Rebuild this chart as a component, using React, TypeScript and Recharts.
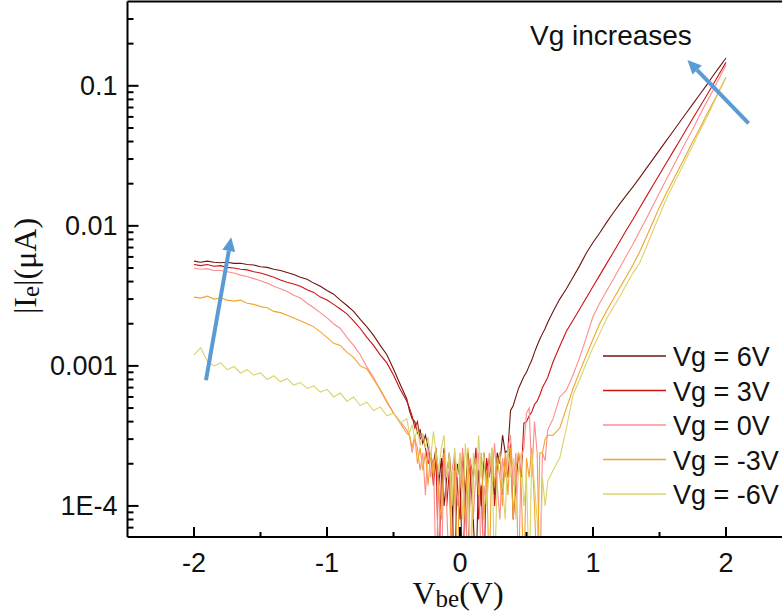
import { LineChart, Line, XAxis, YAxis, ReferenceLine } from "recharts";

// Vbe sample points (V): coarse on the flat parts, finer through the noisy valley
const vbe = [
  -2, -1.95, -1.9, -1.85, -1.8, -1.75, -1.7, -1.65, -1.6, -1.55, -1.5, -1.45, -1.4, -1.35, -1.3, -1.25, -1.2,
  -1.15, -1.1, -1.05, -1, -0.95, -0.9, -0.85, -0.8, -0.75, -0.7, -0.65, -0.6, -0.55, -0.5, -0.45, -0.4,
  -0.38, -0.36, -0.34, -0.32, -0.3, -0.28, -0.26, -0.24, -0.22, -0.2, -0.18, -0.16, -0.14, -0.12, -0.1, -0.08,
  -0.06, -0.04, -0.02, 0, 0.02, 0.04, 0.06, 0.08, 0.1, 0.12, 0.14, 0.16, 0.18, 0.2, 0.22, 0.24, 0.26, 0.28,
  0.3, 0.32, 0.34, 0.36, 0.38, 0.4, 0.42, 0.44, 0.46, 0.48, 0.5, 0.52, 0.54, 0.56, 0.58, 0.6, 0.62, 0.64, 0.66,
  0.7, 0.75, 0.8, 0.85, 0.9, 0.95, 1, 1.05, 1.1, 1.15, 1.2, 1.25, 1.3, 1.35, 1.4, 1.45, 1.5, 1.55, 1.6, 1.65,
  1.7, 1.75, 1.8, 1.85, 1.9, 1.95, 2,
];

// |Ie| in uA, one list per gate voltage
const vg6 = [
  5.6e-3, 5.5e-3, 5.6e-3, 5.5e-3, 5.45e-3, 5.5e-3, 5.4e-3, 5.4e-3, 5.3e-3, 5.25e-3, 5.1e-3, 5.05e-3, 4.9e-3, 4.8e-3, 4.65e-3, 4.5e-3, 4.3e-3,
  4.15e-3, 3.9e-3, 3.7e-3, 3.45e-3, 3.25e-3, 2.95e-3, 2.7e-3, 2.45e-3, 2.15e-3, 1.9e-3, 1.65e-3, 1.4e-3, 1.2e-3, 9.5e-4, 7.4e-4, 5.8e-4,
  4.8e-4, 4.2e-4, 4.0e-4, 3.3e-4, 3.5e-4, 2.8e-4, 3.2e-4, 2.6e-4, 2.2e-4, 2.0e-4, 2.6e-4, 1.4e-4, 2.2e-4, 1.0e-4, 1.6e-4, 2.4e-4,
  1.2e-4, 3e-5, 2.0e-4, 1.6e-4, 3e-5, 1.2e-4, 2.4e-4, 1.6e-4, 8e-5, 3e-5, 1.8e-4, 1.0e-4, 2.4e-4, 1.4e-4, 2.2e-4, 1.6e-4, 1.2e-4, 2.4e-4,
  2.0e-4, 3.2e-4, 2.4e-4, 2.5e-4, 4.8e-4, 5.2e-4, 6.0e-4, 6.9e-4, 7.6e-4, 8.4e-4, 9.0e-4, 1.0e-3, 1.1e-3, 1.25e-3, 1.4e-3, 1.55e-3, 1.7e-3, 1.85e-3, 2.05e-3,
  2.45e-3, 3.0e-3, 3.55e-3, 4.3e-3, 5.2e-3, 6.4e-3, 7.6e-3, 8.9e-3, 1.05e-2, 1.23e-2, 1.43e-2, 1.65e-2, 1.9e-2, 2.2e-2, 2.56e-2, 2.98e-2, 3.47e-2, 4.04e-2, 4.7e-2, 5.47e-2,
  6.37e-2, 7.4e-2, 8.6e-2, 0.1, 0.117, 0.136, 0.158,
];
const vg3 = [
  5.3e-3, 5.2e-3, 5.3e-3, 5.15e-3, 5.2e-3, 5.05e-3, 5.0e-3, 4.9e-3, 4.85e-3, 4.7e-3, 4.6e-3, 4.45e-3, 4.3e-3, 4.1e-3, 3.95e-3, 3.85e-3, 3.7e-3,
  3.5e-3, 3.35e-3, 3.1e-3, 2.95e-3, 2.75e-3, 2.55e-3, 2.35e-3, 2.1e-3, 1.85e-3, 1.6e-3, 1.4e-3, 1.2e-3, 1.05e-3, 8.6e-4, 6.8e-4, 5.6e-4,
  5.0e-4, 4.4e-4, 3.6e-4, 4.0e-4, 3.0e-4, 3.2e-4, 2.6e-4, 2.0e-4, 2.4e-4, 1.4e-4, 2.2e-4, 3e-5, 1.6e-4, 2.6e-4, 1.0e-4, 1.8e-4,
  3e-5, 2.2e-4, 1.4e-4, 8e-5, 2.4e-4, 1.2e-4, 3e-5, 2.0e-4, 1.6e-4, 2.6e-4, 8e-5, 1.4e-4, 3e-5, 2.2e-4, 1.6e-4, 2.4e-4, 1.0e-4, 1.8e-4,
  2.4e-4, 1.2e-4, 2.2e-4, 1.6e-4, 2.8e-4, 8e-5, 1.4e-4, 2.4e-4, 1.6e-4, 3.9e-4, 4.0e-4, 4.4e-4, 4.7e-4, 5.3e-4, 5.6e-4, 6.2e-4, 7.0e-4, 7.6e-4, 8.3e-4,
  1.07e-3, 1.38e-3, 1.77e-3, 2.12e-3, 2.55e-3, 3.07e-3, 3.69e-3, 4.43e-3, 5.33e-3, 6.4e-3, 7.7e-3, 9.3e-3, 1.11e-2, 1.34e-2, 1.61e-2, 1.94e-2, 2.33e-2, 2.8e-2, 3.36e-2, 4.04e-2,
  4.86e-2, 5.84e-2, 7.0e-2, 8.4e-2, 0.101, 0.122, 0.147,
];
const vg0 = [
  5.0e-3, 4.9e-3, 4.95e-3, 4.8e-3, 4.8e-3, 4.7e-3, 4.6e-3, 4.45e-3, 4.35e-3, 4.2e-3, 4.05e-3, 3.9e-3, 3.7e-3, 3.55e-3, 3.4e-3, 3.2e-3, 3.05e-3,
  2.8e-3, 2.6e-3, 2.4e-3, 2.2e-3, 2.0e-3, 1.85e-3, 1.6e-3, 1.4e-3, 1.2e-3, 9.8e-4, 8.3e-4, 6.7e-4, 5.5e-4, 4.6e-4, 4.0e-4, 3.5e-4,
  3.2e-4, 2.4e-4, 3.0e-4, 2.6e-4, 1.8e-4, 2.4e-4, 1.2e-4, 2.6e-4, 1.6e-4, 2.2e-4, 3e-5, 1.6e-4, 3e-5, 2.4e-4, 1.0e-4, 3e-5,
  1.8e-4, 2.4e-4, 1.0e-4, 1.4e-4, 2.6e-4, 3e-5, 1.6e-4, 2.2e-4, 8e-5, 1.8e-4, 2.4e-4, 3e-5, 1.4e-4, 1.0e-4, 2.4e-4, 1.6e-4, 2.8e-4, 1.4e-4,
  8e-5, 2.2e-4, 1.6e-4, 2.6e-4, 3.2e-4, 1.4e-4, 2.4e-4, 3e-5, 2.2e-4, 2.6e-4, 4.6e-4, 5.0e-4, 1.6e-4, 4.0e-4, 2.4e-4, 3e-5, 2.4e-4, 2.1e-4, 3.5e-4,
  4.2e-4, 6.0e-4, 6.7e-4, 8.6e-4, 1.15e-3, 1.6e-3, 2.25e-3, 2.8e-3, 3.4e-3, 4.1e-3, 5.0e-3, 6.1e-3, 7.4e-3, 9.1e-3, 1.12e-2, 1.39e-2, 1.72e-2, 2.13e-2, 2.62e-2, 3.24e-2,
  4.0e-2, 4.9e-2, 6.1e-2, 7.5e-2, 9.2e-2, 0.114, 0.141,
];
const vgm3 = [
  3.1e-3, 3.05e-3, 3.15e-3, 3.0e-3, 3.05e-3, 2.95e-3, 2.9e-3, 2.95e-3, 2.8e-3, 2.75e-3, 2.65e-3, 2.6e-3, 2.45e-3, 2.4e-3, 2.3e-3, 2.2e-3, 2.1e-3,
  2.0e-3, 1.9e-3, 1.75e-3, 1.6e-3, 1.45e-3, 1.4e-3, 1.25e-3, 1.15e-3, 1.0e-3, 9.5e-4, 8.0e-4, 6.8e-4, 5.6e-4, 4.6e-4, 3.9e-4, 3.3e-4,
  3.2e-4, 2.6e-4, 3.2e-4, 2.0e-4, 2.6e-4, 1.8e-4, 2.4e-4, 1.4e-4, 2.4e-4, 1.6e-4, 2.6e-4, 1.2e-4, 8e-5, 2.4e-4, 1.6e-4, 2.2e-4,
  3e-5, 1.8e-4, 3e-5, 2.4e-4, 1.4e-4, 8e-5, 2.6e-4, 3e-5, 1.6e-4, 2.2e-4, 1.2e-4, 2.4e-4, 8e-5, 1.8e-4, 3e-5, 2.6e-4, 1.4e-4, 2.2e-4,
  1.6e-4, 1.0e-4, 2.4e-4, 1.2e-4, 2.6e-4, 8e-5, 1.8e-4, 2.4e-4, 1.4e-4, 3e-5, 2.2e-4, 1.6e-4, 2.6e-4, 1.0e-4, 3e-5, 2.4e-4, 2.4e-4, 3.0e-4, 3.2e-4,
  3.2e-4, 3.6e-4, 5.0e-4, 6.9e-4, 9.1e-4, 1.19e-3, 1.55e-3, 2.0e-3, 2.45e-3, 2.97e-3, 3.58e-3, 4.33e-3, 5.25e-3, 6.5e-3, 8.3e-3, 1.06e-2, 1.36e-2, 1.7e-2, 2.1e-2, 2.6e-2,
  3.2e-2, 4.0e-2, 4.9e-2, 6.1e-2, 7.5e-2, 9.3e-2, 0.115,
];
const vgm6 = [
  1.2e-3, 1.35e-3, 1.08e-3, 1.0e-3, 1.05e-3, 9.4e-4, 9.9e-4, 8.9e-4, 9.4e-4, 8.6e-4, 8.9e-4, 8.0e-4, 8.5e-4, 7.7e-4, 8.1e-4, 7.3e-4, 7.6e-4,
  6.9e-4, 7.2e-4, 6.5e-4, 6.8e-4, 6.0e-4, 6.4e-4, 5.6e-4, 6.0e-4, 5.2e-4, 5.5e-4, 4.8e-4, 5.1e-4, 4.4e-4, 4.6e-4, 3.9e-4, 4.2e-4,
  3.3e-4, 3.8e-4, 3.0e-4, 3.6e-4, 2.7e-4, 3.3e-4, 2.6e-4, 3.1e-4, 2.2e-4, 3.4e-4, 2.4e-4, 1.8e-4, 2.6e-4, 3.2e-4, 1.6e-4, 2.4e-4,
  1.0e-4, 2.6e-4, 1.6e-4, 2.4e-4, 8e-5, 2.8e-4, 1.6e-4, 3e-5, 2.4e-4, 1.4e-4, 3.2e-4, 1.6e-4, 2.4e-4, 1.0e-4, 1.8e-4, 2.6e-4, 3e-5, 1.6e-4,
  2.4e-4, 1.4e-4, 8e-5, 2.6e-4, 1.6e-4, 2.2e-4, 8e-5, 1.8e-4, 2.4e-4, 1.0e-4, 1.6e-4, 3e-5, 2.4e-4, 1.4e-4, 8e-5, 3e-5, 1.6e-4, 1.0e-4, 1.5e-4,
  1.8e-4, 2.2e-4, 3.6e-4, 6.2e-4, 8.0e-4, 1.05e-3, 1.35e-3, 1.7e-3, 2.15e-3, 2.6e-3, 3.1e-3, 3.8e-3, 4.6e-3, 5.4e-3, 7.0e-3, 9.2e-3, 1.19e-2, 1.55e-2, 1.93e-2, 2.4e-2,
  3.0e-2, 3.75e-2, 4.7e-2, 5.8e-2, 7.3e-2, 9.1e-2, 0.114,
];

const seriesKeys = ["vg6", "vg3", "vg0", "vgm3", "vgm6"];
const seriesNames = ["Vg = 6V", "Vg = 3V", "Vg = 0V", "Vg = -3V", "Vg = -6V"];
const seriesColors = ["#6e1410", "#cc1212", "#ff8c8c", "#f2a42a", "#d8d46c"];

const xTicks = [-2, -1.5, -1, -0.5, 0, 0.5, 1, 1.5, 2];
const yMajorTicks = [0.0001, 0.001, 0.01, 0.1];
const yMajorLabels = ["1E-4", "0.001", "0.01", "0.1"];
const yMinorTicks = [
  7e-5, 8e-5, 9e-5, 2e-4, 3e-4, 4e-4, 5e-4, 6e-4, 7e-4, 8e-4, 9e-4, 2e-3, 3e-3, 4e-3, 5e-3, 6e-3, 7e-3, 8e-3, 9e-3,
  0.02, 0.03, 0.04, 0.05, 0.06, 0.07, 0.08, 0.09, 0.2, 0.3,
];

// arrow annotations, in data units (Vbe, |Ie|)
const arrowLeft = [{ x: -1.91, y: 0.00079 }, { x: -1.72, y: 0.0083 }];
const arrowRight = [{ x: 2.17, y: 0.054 }, { x: 1.71, y: 0.153 }];

const data = vbe.map((v, i) => ({
  vbe: v,
  vg6: vg6[i],
  vg3: vg3[i],
  vg0: vg0[i],
  vgm3: vgm3[i],
  vgm6: vgm6[i],
}));

const SANS = "'Liberation Sans', Arial, sans-serif";
const SERIF = "'Liberation Serif', 'Times New Roman', serif";

const XTick = ({ x, y, payload }: any) => {
  const v = payload.value;
  const major = Number.isInteger(v);
  return (
    <g>
      <line x1={x} x2={x} y1={y} y2={y - (major ? 10 : 5)} stroke="#000" strokeWidth={2} />
      {major && (
        <text x={x} y={y + 35} textAnchor="middle" fontSize={27} fontFamily={SANS} fill="#111">
          {String(v)}
        </text>
      )}
    </g>
  );
};

const YTick = ({ x, y, payload }: any) => {
  const idx = yMajorTicks.indexOf(payload.value);
  const major = idx >= 0;
  return (
    <g>
      <line x1={x} x2={x + (major ? 11 : 6)} y1={y} y2={y} stroke="#000" strokeWidth={2} />
      {major && (
        <text x={x - 10} y={y + 9.5} textAnchor="end" fontSize={27} fontFamily={SANS} fill="#111">
          {yMajorLabels[idx]}
        </text>
      )}
    </g>
  );
};

const ArrowShape = (props: any) => {
  const { x1, y1, x2, y2 } = props;
  const dx = x2 - x1;
  const dy = y2 - y1;
  const len = Math.hypot(dx, dy) || 1;
  const ux = dx / len;
  const uy = dy / len;
  const hl = 14;
  const hw = 6.5;
  const bx = x2 - ux * hl;
  const by = y2 - uy * hl;
  return (
    <g>
      <line x1={x1} y1={y1} x2={bx} y2={by} stroke="#5b9bd5" strokeWidth={4} />
      <polygon
        points={`${x2},${y2} ${bx - uy * hw},${by + ux * hw} ${bx + uy * hw},${by - ux * hw}`}
        fill="#5b9bd5"
      />
    </g>
  );
};

export default function App() {
  return (
    <div
      style={{
        position: "absolute",
        left: 0,
        top: 0,
        width: 782,
        height: 615,
        overflow: "hidden",
        background: "#fff",
      }}
    >
      <LineChart
        width={800}
        height={615}
        data={data}
        margin={{ top: 1.5, right: 7.5, left: 67.5, bottom: 48 }}
      >
        <XAxis
          dataKey="vbe"
          type="number"
          domain={[-2.5, 2.5]}
          ticks={xTicks}
          tick={<XTick />}
          tickLine={false}
          tickSize={0}
          tickMargin={0}
          height={30}
          axisLine={{ stroke: "#000", strokeWidth: 2 }}
          allowDataOverflow
        />
        <YAxis
          type="number"
          scale="log"
          domain={[6e-5, 0.4]}
          ticks={[...yMinorTicks, ...yMajorTicks]}
          tick={<YTick />}
          tickLine={false}
          tickSize={0}
          tickMargin={0}
          width={60}
          interval={0}
          axisLine={{ stroke: "#000", strokeWidth: 2 }}
          allowDataOverflow
        />
        <ReferenceLine y={0.4} stroke="#000" strokeWidth={2} ifOverflow="visible" />
        {seriesKeys.map((k, i) => (
          <Line
            key={k}
            dataKey={k}
            name={seriesNames[i]}
            stroke={seriesColors[i]}
            strokeWidth={1.1}
            dot={false}
            type="linear"
            isAnimationActive={false}
          />
        ))}
        <ReferenceLine segment={arrowLeft} shape={ArrowShape} ifOverflow="visible" />
        <ReferenceLine segment={arrowRight} shape={ArrowShape} ifOverflow="visible" />
      </LineChart>

      <svg
        width={782}
        height={615}
        style={{ position: "absolute", left: 0, top: 0, pointerEvents: "none" }}
      >
        <text x={530} y={45} fontSize={28} fontFamily={SANS} fill="#111">
          Vg increases
        </text>

        <text x={458} y={604} textAnchor="middle" fontFamily={SERIF} fill="#111" fontSize={32}>
          V<tspan fontSize={25} dy={3}>be</tspan>
          <tspan dy={-3}>(V)</tspan>
        </text>

        <text
          x={0}
          y={0}
          transform="translate(36,266) rotate(-90)"
          textAnchor="middle"
          fontFamily={SERIF}
          fill="#111"
          fontSize={32}
        >
          |I<tspan fontSize={25} dy={3}>e</tspan>
          <tspan dy={-3}>|(μA)</tspan>
        </text>

        {seriesNames.map((n, i) => (
          <g key={n}>
            <line
              x1={603}
              x2={666}
              y1={356 + i * 34.5}
              y2={356 + i * 34.5}
              stroke={seriesColors[i]}
              strokeWidth={1.3}
            />
            <text x={673} y={356 + i * 34.5 + 10} fontSize={27} fontFamily={SANS} fill="#111">
              {n}
            </text>
          </g>
        ))}
      </svg>
    </div>
  );
}
